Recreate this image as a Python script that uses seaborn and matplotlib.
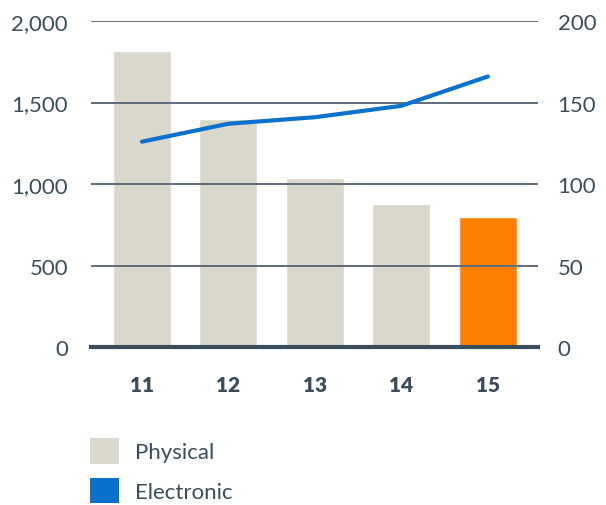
import numpy as np
import pandas as pd
import matplotlib
matplotlib.use("Agg")
import matplotlib.pyplot as plt
from matplotlib.patches import Patch
import seaborn as sns

# Data
years = ["11", "12", "13", "14", "15"]
physical = [1815, 1400, 1040, 880, 800]
electronic = [126, 137, 141, 148, 166]
left_ticks = [0, 500, 1000, 1500, 2000]
right_ticks = [0, 50, 100, 150, 200]
legend_labels = ["Physical", "Electronic"]

GREY_BAR = "#dad8cc"
ORANGE = "#ff8000"
BLUE = "#0a72cc"
INK = "#3b4d5c"
GRID = "#5f6d79"

sns.set_theme(style="white")
plt.rcParams["font.family"] = ["Lato", "DejaVu Sans"]

fig = plt.figure(figsize=(6.06, 5.06), dpi=100)
ax = fig.add_axes([0.150, 0.312, 0.738, 0.6445])

df = pd.DataFrame({"year": years, "physical": physical})
bar_colors = [GREY_BAR] * (len(years) - 1) + [ORANGE]
sns.barplot(data=df, x="year", y="physical", hue="year", palette=bar_colors,
            legend=False, width=0.67, ax=ax, saturation=1)

ax.set_ylim(0, 2000)
ax.set_xlim(-0.59, len(years) - 1 + 0.58)
ax.set_yticks(left_ticks)
ax.set_yticklabels([f"{v:,}" for v in left_ticks])
ax.set_axisbelow(False)
ax.grid(axis="y", color=GRID, linewidth=1.4)
ax.grid(axis="x", visible=False)
ax.set_xlabel("")
ax.set_ylabel("")
for s in ["top", "left", "right"]:
    ax.spines[s].set_visible(False)
ax.spines["bottom"].set_color(INK)
ax.spines["bottom"].set_linewidth(3)
ax.spines["bottom"].set_zorder(5)
ax.tick_params(axis="y", length=0, pad=16.5, labelsize=16, labelcolor=INK)
ax.tick_params(axis="x", length=0, pad=20, labelsize=15, labelcolor=INK)
for t in ax.get_xticklabels():
    t.set_fontweight("heavy")

# Secondary axis for electronic volumes
ax2 = ax.twinx()
sns.lineplot(x=np.arange(len(years)), y=electronic, color=BLUE, linewidth=3,
             ax=ax2, solid_capstyle="round")
ax2.set_ylim(0, 200)
ax2.set_yticks(right_ticks)
ax2.set_yticklabels([str(v) for v in right_ticks])
ax2.grid(False)
ax2.set_ylabel("")
for s in ax2.spines.values():
    s.set_visible(False)
ax2.tick_params(axis="y", length=0, pad=14, labelsize=16, labelcolor=INK)

handles = [Patch(facecolor=GREY_BAR, edgecolor="none"),
           Patch(facecolor=BLUE, edgecolor="none")]
fig.legend(handles, legend_labels, loc="upper left",
           bbox_to_anchor=(0.148, 0.132), frameon=False,
           handlelength=1.3, handleheight=1.4, handletextpad=0.75,
           labelspacing=0.62, fontsize=16, labelcolor=INK, borderpad=0,
           borderaxespad=0)

fig.savefig("out.png", dpi=100)
